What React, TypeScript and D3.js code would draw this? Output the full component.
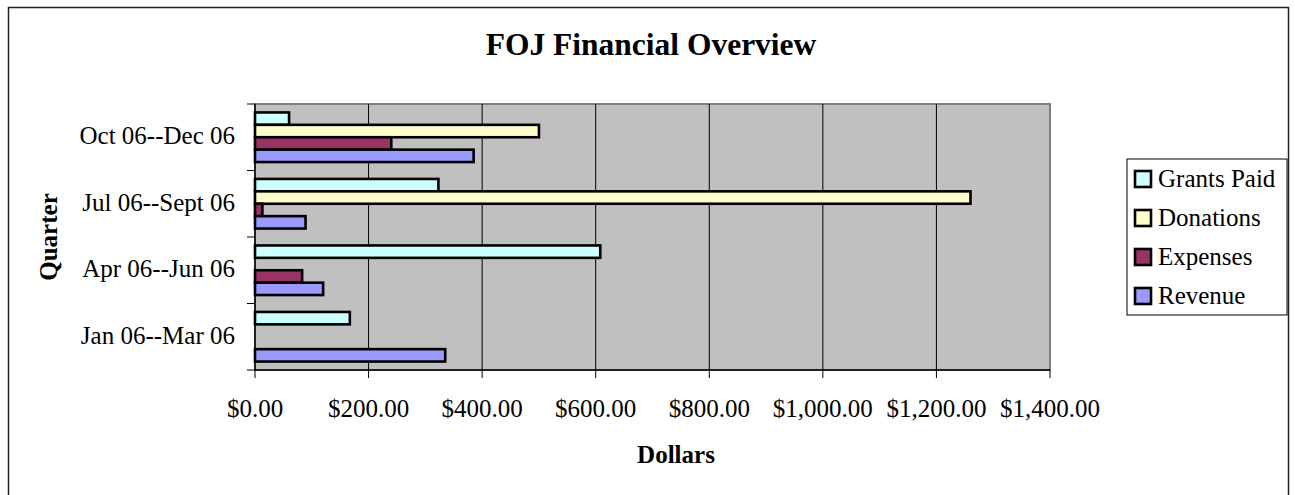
import React from "react";
import * as d3 from "d3";

const quarters = ["Jan 06--Mar 06", "Apr 06--Jun 06", "Jul 06--Sept 06", "Oct 06--Dec 06"];
const seriesNames = ["Grants Paid", "Donations", "Expenses", "Revenue"];
const grantsPaid = [167, 608, 323, 60];
const donations = [0, 0, 1260, 500];
const expenses = [0, 83, 13, 240];
const revenue = [335, 120, 89, 385];
const seriesColors = ["#CCFFFF", "#FFFFCC", "#993366", "#9999FF"];
const xTicks = [0, 200, 400, 600, 800, 1000, 1200, 1400];

const seriesValues = [grantsPaid, donations, expenses, revenue];

const W = 1295;
const H = 495;
const plot = { left: 255, right: 1050, top: 104, bottom: 370 };
const FONT = "'Liberation Serif', 'Times New Roman', serif";

export default function App() {
  const x = d3.scaleLinear().domain([0, 1400]).range([plot.left, plot.right]);
  const y = d3
    .scaleBand<string>()
    .domain([...quarters].reverse())
    .range([plot.top, plot.bottom])
    .padding(0);
  const bw = y.bandwidth();
  const barH = 12.4;
  const groupPad = (bw - barH * 4) / 2;
  const inner = d3
    .scaleBand<string>()
    .domain(seriesNames)
    .range([groupPad, bw - groupPad])
    .padding(0);
  const fmt = (v: number) => "$" + d3.format(",.2f")(v);

  const boundaries = d3.range(quarters.length + 1).map((i) => plot.top + i * bw);

  return (
    <svg
      width={W}
      height={H}
      style={{ position: "absolute", left: 0, top: 0, display: "block" }}
      fontFamily={FONT}
    >
      <rect x={0} y={0} width={W} height={H} fill="#fff" />
      {/* outer frame */}
      <rect x={8.5} y={7.5} width={1280} height={500} fill="none" stroke="#222" strokeWidth={1.5} />
      {/* title */}
      <text x={651} y={55} textAnchor="middle" fontSize={31.5} fontWeight="bold" fill="#000">
        FOJ Financial Overview
      </text>
      {/* plot area */}
      <rect
        x={plot.left}
        y={plot.top}
        width={plot.right - plot.left}
        height={plot.bottom - plot.top}
        fill="#C0C0C0"
        stroke="#808080"
        strokeWidth={2}
      />
      {/* gridlines */}
      {xTicks.slice(1, -1).map((t) => (
        <line key={"g" + t} x1={x(t)} x2={x(t)} y1={plot.top} y2={plot.bottom} stroke="#000" strokeWidth={1} />
      ))}
      {/* bars */}
      {quarters.map((q, qi) =>
        seriesNames.map((s, si) => {
          const v = seriesValues[si][qi];
          if (!v) return null;
          const y0 = (y(q) as number) + (inner(s) as number);
          return (
            <rect
              key={q + s}
              x={x(0)}
              y={y0}
              width={x(v) - x(0)}
              height={inner.bandwidth()}
              fill={seriesColors[si]}
              stroke="#000"
              strokeWidth={2.6}
            />
          );
        })
      )}
      {/* axes */}
      <line x1={plot.left} x2={plot.left} y1={plot.top} y2={plot.bottom} stroke="#000" strokeWidth={1.5} />
      <line x1={plot.left} x2={plot.right} y1={plot.bottom} y2={plot.bottom} stroke="#000" strokeWidth={1.5} />
      {boundaries.map((b, i) => (
        <line key={"yt" + i} x1={plot.left - 8} x2={plot.left} y1={b} y2={b} stroke="#000" strokeWidth={1} />
      ))}
      {xTicks.map((t) => (
        <line key={"xt" + t} x1={x(t)} x2={x(t)} y1={plot.bottom} y2={plot.bottom + 8} stroke="#000" strokeWidth={1} />
      ))}
      {/* tick labels */}
      {quarters.map((q) => (
        <text
          key={"yl" + q}
          x={235}
          y={(y(q) as number) + bw / 2 + 7}
          textAnchor="end"
          fontSize={25}
          fill="#000"
        >
          {q}
        </text>
      ))}
      {xTicks.map((t) => (
        <text key={"xl" + t} x={x(t)} y={417} textAnchor="middle" fontSize={25} fill="#000">
          {fmt(t)}
        </text>
      ))}
      {/* axis titles */}
      <text x={676} y={463} textAnchor="middle" fontSize={25} fontWeight="bold" fill="#000">
        Dollars
      </text>
      <text
        transform={`translate(57, ${(plot.top + plot.bottom) / 2}) rotate(-90)`}
        textAnchor="middle"
        fontSize={25}
        fontWeight="bold"
        fill="#000"
      >
        Quarter
      </text>
      {/* legend */}
      <rect x={1127} y={159} width={160} height={156} fill="#fff" stroke="#000" strokeWidth={1} />
      {seriesNames.map((s, i) => {
        const base = 187 + i * 39;
        return (
          <g key={"lg" + s}>
            <rect x={1135} y={base - 16} width={16} height={16} fill={seriesColors[i]} stroke="#000" strokeWidth={2.6} />
            <text x={1158} y={base} fontSize={25} fill="#000">
              {s}
            </text>
          </g>
        );
      })}
    </svg>
  );
}
